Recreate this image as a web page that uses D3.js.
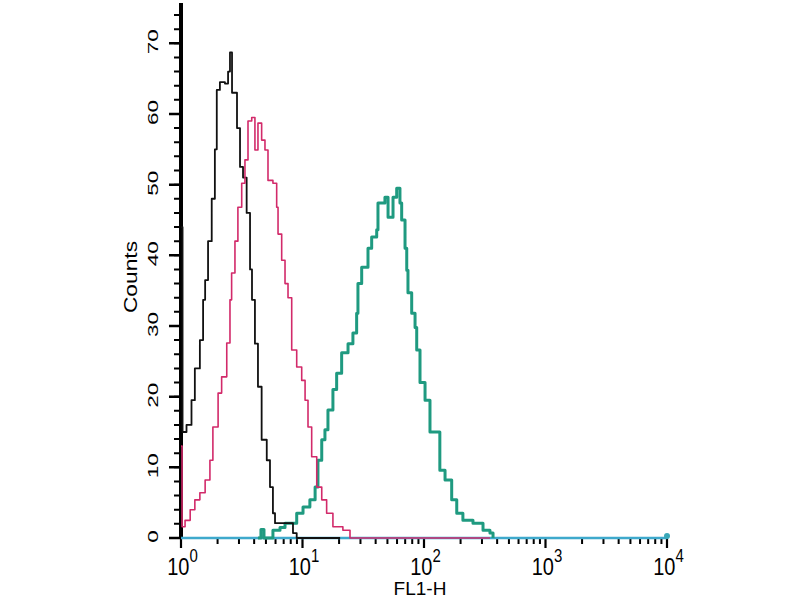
<!DOCTYPE html>
<html><head><meta charset="utf-8">
<script src="https://cdn.jsdelivr.net/npm/d3@7"></script>
<style>body{margin:0;background:#fff}svg{display:block}</style>
</head><body>
<svg id="c" width="800" height="600"></svg>
<script>
// FL1-H values (x) and counts (y) per series
const blackX = [1.00,1.03,1.04,1.11,1.22,1.30,1.43,1.52,1.58,1.67,1.79,1.90,1.97,2.09,2.30,2.44,2.53,2.63,2.78,2.89,3.06,3.24,3.47,3.70,3.84,4.06,4.30,4.61,5.08,5.40,5.71,5.94,7.42,8.35,8.96,20.4];
const blackY = [44,15,15,16,19.5,24,28,33.7,36.5,42,48,55,63.4,64.5,64.3,66,68.7,63,63,58,52.5,51,46,38,33.7,27.5,21.4,13.9,11,7.2,3.5,2.1,2.1,0.7,0,0];
const pinkX = [1.00,1.02,1.08,1.19,1.30,1.43,1.58,1.73,1.83,2.02,2.16,2.38,2.53,2.61,2.78,2.94,3.16,3.36,3.56,3.82,4.06,4.30,4.61,4.91,5.20,5.71,6.13,6.29,6.74,7.18,7.60,8.15,8.96,9.85,10.5,11.1,11.9,13.1,14.4,15.8,17.8,21.5,24.6,349];
const pinkY = [13,1.6,2.5,4,5.4,6.4,8.2,11,15.7,20.5,22.8,27.6,33.7,37.5,42,46.8,50.2,53.5,59,59.5,54.9,58.7,56.3,54.9,50.6,50.2,46.8,43,39.3,36,34,26.6,24.2,22.3,19.5,15.7,11.5,7.2,5.4,3.5,1.6,1.1,0,0];
const greenX = [4.30,4.55,4.82,5.20,5.71,6.53,7.18,8.96,10.1,11.5,12.7,13.4,14.4,15.3,16.2,17.8,19.1,21.0,23.7,26.0,27.9,28.6,30.7,34.6,37.1,40.8,41.8,47.7,50.6,55.6,59.6,63.4,65.5,69.8,72.1,73.8,79.2,84.4,87.1,92.7,102,112,135,149,169,186,209,253,306,349,370];
const greenY = [0,1.2,0,0,1.1,1.5,2.1,3.5,4.4,5.4,7.2,11,13.9,15.3,18.1,21,23.3,26.2,27.5,29,31.8,36,38.3,41,42.6,43.6,47.4,48.2,45.4,48.2,49.5,47.4,45,41,37.9,34.7,31.8,29.8,26.6,22,19.5,15,9.6,8.2,5.4,3.5,2.5,2.1,1.1,0.7,0];
const blueX = [1,9900,10000];
const blueY = [0,0,0.3];
const yMajor = [0,10,20,30,40,50,60,70];
const xDecades = [0,1,2,3,4];

const svg = d3.select("#c");
const x = d3.scaleLog().domain([1,10000]).range([181,667]);
const y = d3.scaleLinear().domain([0,75.7]).range([538,3]);
const font = "'Liberation Sans', Arial, sans-serif";
const x0 = x.range()[0], y0 = y.range()[0];

const xMinor = [];
for (let d=0; d<4; d++) for (let k=2; k<=9; k++) xMinor.push(k*Math.pow(10,d));
const xMajorV = xDecades.map(e=>Math.pow(10,e));
const yMinor = d3.range(0,76,2);

// tick marks drawn as paths from the scales
function tickPath(vals, fn){ return vals.map(fn).join(""); }
svg.append("path").attr("d", tickPath(xMinor, v=>`M${x(v)},${y0}v6`))
  .attr("stroke","#000").attr("stroke-width",2).attr("fill","none");
svg.append("path").attr("d", tickPath(xMajorV, v=>`M${x(v)},${y0}v10`))
  .attr("stroke","#000").attr("stroke-width",2.2).attr("fill","none");
svg.append("path").attr("d", tickPath(yMinor, v=>`M${x0},${y(v)}h-7`))
  .attr("stroke","#000").attr("stroke-width",2).attr("fill","none");
svg.append("path").attr("d", tickPath(yMajor, v=>`M${x0},${y(v)}h-12`))
  .attr("stroke","#000").attr("stroke-width",2.5).attr("fill","none");
svg.append("path").attr("d",`M${x0},${y0}H${x.range()[1]}`)
  .attr("stroke","#000").attr("stroke-width",1.5);

// x axis labels (positioned by d3 axis)
const gxM = svg.append("g").attr("transform",`translate(0,${y0})`);
gxM.call(d3.axisBottom(x).tickValues(xMajorV).tickSize(0).tickFormat(() => ""));
gxM.select(".domain").remove();
gxM.selectAll(".tick line").remove();
gxM.selectAll(".tick").each(function(d,i){
  const t = d3.select(this).append("text")
    .attr("transform","translate(1,37) scale(1,1.18)").attr("text-anchor","middle")
    .attr("fill","#000").attr("font-family",font).attr("font-size",20);
  t.append("tspan").text("10");
  t.append("tspan").attr("dy",-11).attr("font-size",15).text(String(xDecades[i]));
});

// y axis labels
const gyM = svg.append("g").attr("transform",`translate(${x0},0)`);
gyM.call(d3.axisLeft(y).tickValues(yMajor).tickSize(0).tickFormat(() => ""));
gyM.select(".domain").remove();
gyM.selectAll(".tick line").remove();
gyM.selectAll(".tick").append("text")
  .attr("transform","translate(-23,-2) rotate(-90) scale(1.5,1)")
  .attr("text-anchor","middle")
  .attr("fill","#000").attr("font-family",font).attr("font-size",15)
  .text(d=>d);
svg.append("line").attr("x1",x0).attr("x2",x0).attr("y1",y(75.7)).attr("y2",y0)
  .attr("stroke","#000").attr("stroke-width",4);

// series
const line = d3.line().x(d=>x(d[0])).y(d=>y(d[1])).curve(d3.curveStepAfter);
function draw(xs, ys, color, w){
  svg.append("path").datum(xs.map((v,i)=>[v,ys[i]]))
    .attr("d",line).attr("fill","none").attr("stroke",color)
    .attr("stroke-width",w).attr("stroke-linejoin","round");
}
draw(blueX, blueY, "#3ea9cc", 2.5);
draw(greenX, greenY, "#1f9a80", 3);
draw(blackX, blackY, "#111", 1.8);
draw(pinkX, pinkY, "#d22a6a", 1.6);
svg.append("circle").attr("cx",x(blueX[blueX.length-1])).attr("cy",y(blueY[blueY.length-1]))
  .attr("r",3).attr("fill","#3aa8b8");

// labels
svg.append("text").attr("transform","translate(137,277) rotate(-90) scale(1.2,1)")
  .attr("text-anchor","middle").attr("font-family",font).attr("font-size",19)
  .attr("fill","#000").text("Counts");
svg.append("text").attr("x",420).attr("y",595).attr("text-anchor","middle")
  .attr("font-family",font).attr("font-size",19)
  .attr("fill","#000").text("FL1-H");
</script>
</body></html>
